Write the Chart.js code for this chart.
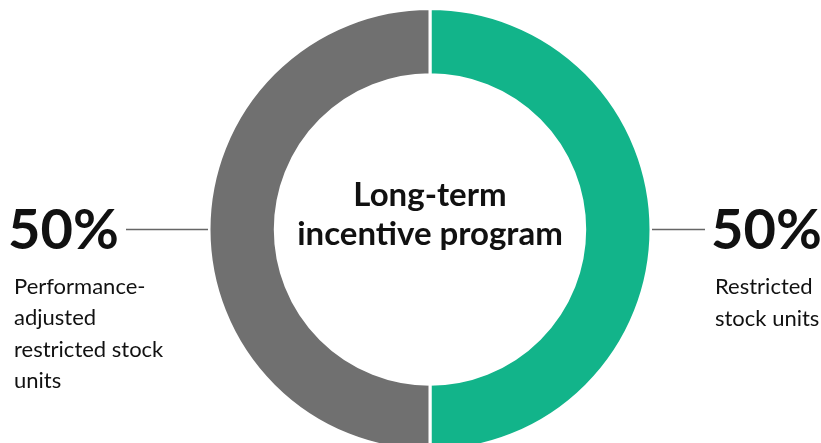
<!DOCTYPE html>
<html>
<head>
<meta charset="utf-8">
<script src="https://cdn.jsdelivr.net/npm/chart.js@4/dist/chart.umd.min.js"></script>
<style>
html,body{margin:0;padding:0;background:#fff;overflow:hidden;width:821px;height:443px;}
#wrap{position:relative;width:821px;height:452px;}
canvas{display:block;}
</style>
</head>
<body>
<div id="wrap"><canvas id="c" width="821" height="452"></canvas></div>
<script>
const categories = ["Restricted stock units", "Performance-adjusted restricted stock units"];
const values = [50, 50];
const colors = ["#12b48a", "#707070"];
const centerLines = ["Long-term", "incentive program"];
const rightLabel = ["Restricted", "stock units"];
const leftLabel = ["Performance-", "adjusted", "restricted stock", "units"];

const FONT = "Lato, 'Open Sans', sans-serif";

const annotate = {
  id: 'annotate',
  afterDraw(chart) {
    const arc = chart.getDatasetMeta(0).data[0];
    const cx = arc.x, cy = arc.y, R = arc.outerRadius;
    const ctx = chart.ctx;
    ctx.save();
    ctx.fillStyle = '#111';
    // center text
    ctx.textAlign = 'center';
    ctx.textBaseline = 'alphabetic';
    ctx.font = "bold 33px " + FONT;
    ctx.fillText(centerLines[0], cx, cy - 24);
    ctx.fillText(centerLines[1], cx, cy + 15);

    // connector lines
    ctx.strokeStyle = '#666';
    ctx.lineWidth = 1.5;
    ctx.beginPath();
    ctx.moveTo(cx - R - 1, cy);
    ctx.lineTo(cx - R - 83, cy);
    ctx.moveTo(cx + R + 1, cy);
    ctx.lineTo(cx + R + 54, cy);
    ctx.stroke();

    // percentages
    ctx.font = "bold 56px " + FONT;
    ctx.textAlign = 'left';
    ctx.fillText(values[1] + '%', cx - R - 201, cy + 19);
    ctx.fillText(values[0] + '%', cx + R + 60, cy + 19);

    // labels
    ctx.font = "22px " + FONT;
    leftLabel.forEach((t, i) => ctx.fillText(t, cx - R - 195, cy + 64 + i * 31.5));
    rightLabel.forEach((t, i) => ctx.fillText(t, cx + R + 64, cy + 64 + i * 32));
    ctx.restore();
  }
};

new Chart(document.getElementById('c'), {
  type: 'doughnut',
  data: {
    labels: categories,
    datasets: [{
      data: values,
      backgroundColor: colors,
      borderColor: '#ffffff',
      borderWidth: 3,
      hoverOffset: 0
    }]
  },
  options: {
    responsive: false,
    animation: false,
    cutout: '70%',
    rotation: 0,
    layout: { padding: { top: 7, bottom: 0, left: 39, right: 0 } },
    plugins: { legend: { display: false }, tooltip: { enabled: false } }
  },
  plugins: [annotate]
});
</script>
</body>
</html>
